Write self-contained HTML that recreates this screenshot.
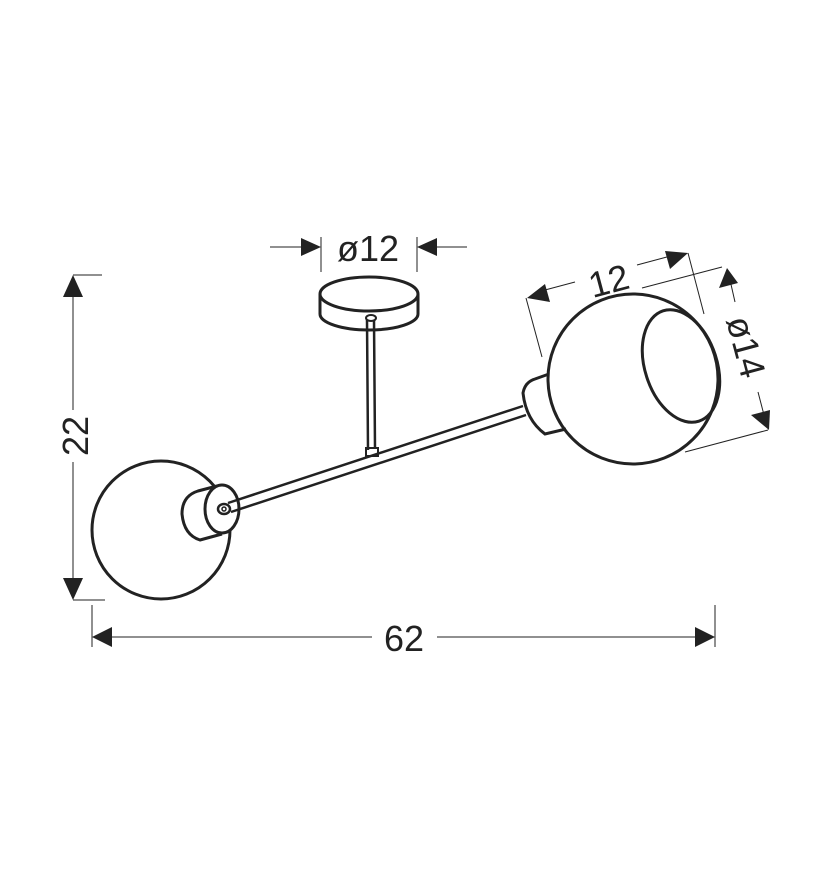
<!DOCTYPE html>
<html><head><style>html,body{margin:0;padding:0;background:#fff}svg{display:block}</style></head>
<body>
<svg width="828" height="886" viewBox="0 0 828 886" xmlns="http://www.w3.org/2000/svg">
<g fill="none" stroke="#222" stroke-width="3">
<!-- left globe -->
<circle cx="161" cy="530" r="69"/>
<!-- left socket -->
<path d="M217 486 L198 491 Q182 496 182 514 Q184 535 200 540 L222 534" fill="#fff"/>
<ellipse cx="222" cy="509" rx="17" ry="24" fill="#fff"/>
<!-- arm -->
<path d="M228 503 L523 406 M231 512 L526 415" stroke-width="2.5"/>
<ellipse cx="224" cy="509" rx="6" ry="5" fill="#fff" stroke-width="2.5"/>
<circle cx="224" cy="509" r="2" stroke-width="1.5"/>
<!-- stem -->
<path d="M367 320 L368 450 M374 320 L375 448" stroke-width="2.5"/>
<rect x="366" y="448" width="12" height="8" stroke-width="2"/>
<!-- canopy -->
<path d="M320 294 L320 314 A49 16 0 0 0 418 314 L418 294"/>
<ellipse cx="369" cy="294" rx="49" ry="17" fill="#fff"/>
<ellipse cx="371" cy="318" rx="5" ry="3" fill="#fff" stroke-width="2"/>
<!-- right socket -->
<path d="M549 374 L535 379 Q525 382 523 393 Q526 420 545 434 L566 429" fill="#fff"/>
<!-- right globe -->
<circle cx="633" cy="379" r="85"/>
<ellipse cx="681" cy="366" rx="36" ry="58" transform="rotate(-18 681 366)"/>
</g>
<!-- dimension lines -->
<g stroke="#222" stroke-width="1" fill="none">
<line x1="73" y1="285" x2="73" y2="410"/><line x1="73" y1="462" x2="73" y2="590"/>
<line x1="73" y1="275" x2="102" y2="275"/><line x1="73" y1="600" x2="105" y2="600"/>
<line x1="92" y1="605" x2="92" y2="647"/><line x1="715" y1="605" x2="715" y2="647"/>
<line x1="100" y1="637" x2="372" y2="637"/><line x1="437" y1="637" x2="705" y2="637"/>
<line x1="270" y1="247" x2="310" y2="247"/><line x1="428" y1="247" x2="467" y2="247"/>
<line x1="321" y1="237" x2="321" y2="272"/><line x1="417" y1="237" x2="417" y2="272"/>
<!-- 12 dim -->
<line x1="526" y1="298" x2="542" y2="357"/><line x1="688" y1="253" x2="704" y2="314"/>
<line x1="545" y1="290" x2="575" y2="282"/><line x1="637" y1="265" x2="678" y2="254"/>
<!-- ø14 dim -->
<line x1="642" y1="288" x2="722" y2="267"/><line x1="685" y1="452" x2="768" y2="430"/>
<line x1="730" y1="280" x2="735" y2="302"/><line x1="758" y1="392" x2="764" y2="415"/>
</g>
<g fill="#222" stroke="none">
<polygon points="73,275 63,297 83,297"/>
<polygon points="73,600 63,578 83,578"/>
<polygon points="92,637 112,627 112,647"/>
<polygon points="715,637 695,627 695,647"/>
<polygon points="321,247 301,238 301,256"/>
<polygon points="417,247 437,238 437,256"/>
<polygon points="527,298 545,284 550,302"/>
<polygon points="688,253 665,251 670,269"/>
<polygon points="727,268 719,288 738,283"/>
<polygon points="769,430 751,415 770,410"/>
</g>
<g font-family="Liberation Sans, sans-serif" font-size="36" fill="#222">
<text x="337" y="261">ø12</text>
<text x="384" y="651">62</text>
<text transform="translate(88 436) rotate(-90)" text-anchor="middle">22</text>
<text transform="translate(612 293) rotate(-15)" text-anchor="middle">12</text>
<text transform="translate(734 350) rotate(75)" text-anchor="middle">ø14</text>
</g>
</svg>
</body></html>
